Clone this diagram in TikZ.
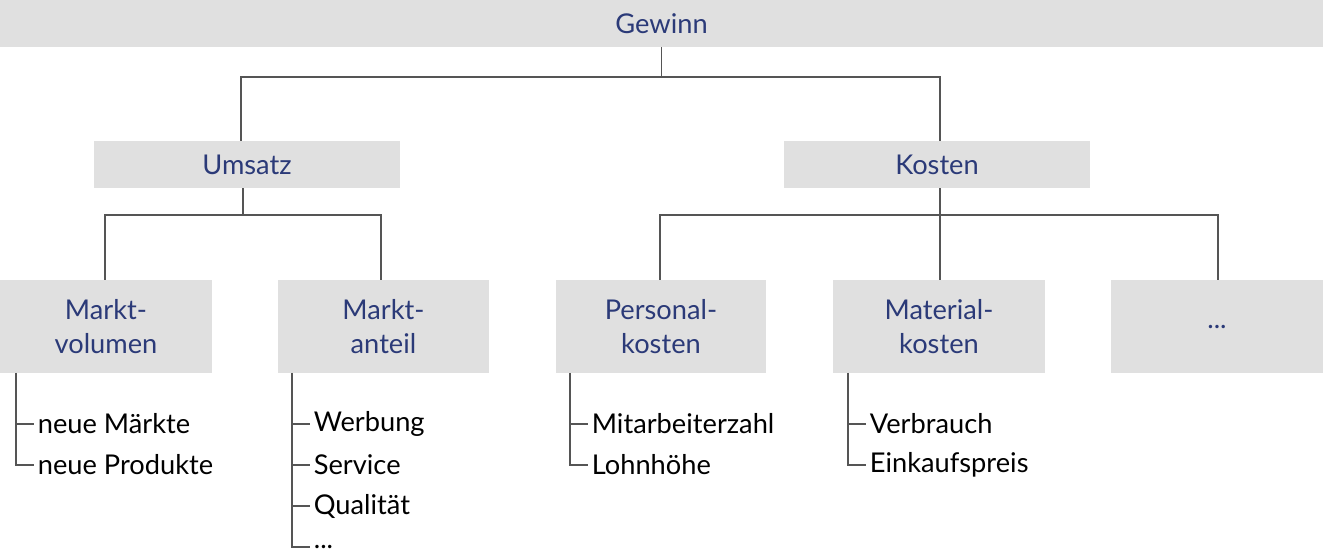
\documentclass[tikz,border=0pt]{standalone}
\usepackage{fontspec}
\setmainfont{Lato}
\usetikzlibrary{positioning}
\definecolor{boxgray}{HTML}{E0E0E0}
\definecolor{titleblue}{HTML}{2B3A78}
\definecolor{linegray}{HTML}{555555}
\begin{document}
\begin{tikzpicture}[
    x=0.02cm, y=-0.02cm,
    box/.style={
        rectangle,
        fill=boxgray,
        text=titleblue,
        align=center,
        inner sep=0pt,
        font=\fontsize{15.5}{19.5}\selectfont
    },
    item/.style={
        anchor=west,
        inner sep=2pt,
        font=\fontsize{15.5}{19}\selectfont
    },
    link/.style={draw=linegray, line width=1.1pt}
]
    \useasboundingbox (0,0) rectangle (1323,560);

    % Top
    \node (gewinn) [box, minimum width=26.46cm, minimum height=0.94cm] at (661.5,23.5) {Gewinn};

    % Second level
    \node (umsatz) [box, minimum width=6.12cm, minimum height=0.94cm] at (247,164.5) {Umsatz};
    \node (kosten) [box, minimum width=6.12cm, minimum height=0.94cm] at (937,164.5) {Kosten};

    % Third level
    \node (mvol) [box, minimum width=4.24cm, minimum height=1.86cm] at (106,326.5) {Markt-\\volumen};
    \node (mant) [box, minimum width=4.22cm, minimum height=1.86cm] at (383.5,326.5) {Markt-\\anteil};
    \node (pers) [box, minimum width=4.2cm, minimum height=1.86cm] at (661,326.5) {Personal-\\kosten};
    \node (mat) [box, minimum width=4.24cm, minimum height=1.86cm] at (939,326.5) {Material-\\kosten};
    \node (more) [box, minimum width=4.24cm, minimum height=1.86cm] at (1217,326.5) {...};

    % Items
    \node (mv1) [item] at (34,424) {neue Märkte};
    \node (mv2) [item] at (34,465) {neue Produkte};
    \node (ma1) [item] at (310,424) {Werbung};
    \node (ma2) [item] at (310,465) {Service};
    \node (ma3) [item] at (310,506) {Qualität};
    \node (ma4) [item] at (310,547) {...};
    \node (pk1) [item] at (588,424) {Mitarbeiterzahl};
    \node (pk2) [item] at (588,465) {Lohnhöhe};
    \node (mk1) [item] at (866,424) {Verbrauch};
    \node (mk2) [item] at (866,465) {Einkaufspreis};

    % Tree connectors
    \draw[link] (gewinn.south) -- ++(0,30) -| (umsatz.north -| 241,0);
    \draw[link] (gewinn.south) ++(0,30) -| (kosten.north -| 940,0);
    \draw[link] (umsatz.south -| 243,0) -- ++(0,27) -| (mvol.north -| 105,0);
    \draw[link] (umsatz.south -| 243,0) ++(0,27) -| (mant.north -| 381,0);
    \draw[link] (kosten.south -| 940,0) -- (mat.north -| 940,0);
    \draw[link] (kosten.south -| 940,0) ++(0,27) -| (pers.north -| 660,0);
    \draw[link] (kosten.south -| 940,0) ++(0,27) -| (more.north -| 1218,0);

    % Item lists
    \coordinate (mvs) at (16,373);
    \coordinate (mas) at (292,373);
    \coordinate (pks) at (570,373);
    \coordinate (mks) at (848,373);
    \draw[link, line width=0.8pt] (mvs) |- (mv2.west);
    \draw[link, line width=0.8pt] (mvs |- mv1.west) -- (mv1.west);
    \draw[link, line width=0.8pt] (mas) |- (ma4.west);
    \foreach \n in {ma1,ma2,ma3}
        \draw[link, line width=0.8pt] (mas |- \n.west) -- (\n.west);
    \draw[link, line width=0.8pt] (pks) |- (pk2.west);
    \draw[link, line width=0.8pt] (pks |- pk1.west) -- (pk1.west);
    \draw[link, line width=0.8pt] (mks) |- (mk2.west);
    \draw[link, line width=0.8pt] (mks |- mk1.west) -- (mk1.west);
\end{tikzpicture}
\end{document}
